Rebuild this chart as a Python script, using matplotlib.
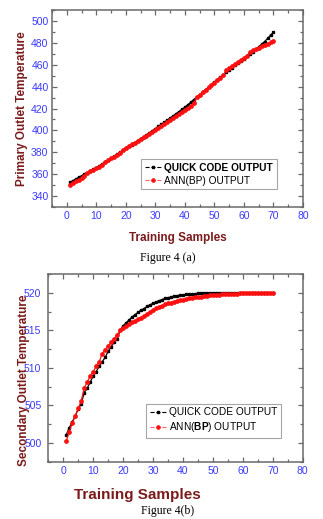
import matplotlib
matplotlib.use("Agg")
import matplotlib.pyplot as plt
from matplotlib.ticker import MultipleLocator
from matplotlib.lines import Line2D

plt.rcParams['font.family'] = ['Liberation Sans', 'DejaVu Sans']
plt.rcParams['mathtext.fontset'] = 'custom'
plt.rcParams['mathtext.bf'] = 'Liberation Sans:bold'
plt.rcParams['mathtext.rm'] = 'Liberation Sans'

samples = list(range(1, 71))

primary_quick = [
    352.5, 354.0, 355.5, 357.0, 358.5, 360.0, 361.5, 363.0, 364.5, 366.0,
    367.7, 369.4, 371.1, 372.8, 374.5, 376.3, 378.1, 379.9, 381.7, 383.5,
    385.3, 387.1, 388.9, 390.7, 392.5, 394.3, 396.1, 397.9, 399.8, 401.7,
    403.6, 405.5, 407.4, 409.3, 411.2, 413.2, 415.2, 417.2, 419.2, 421.2,
    423.5, 425.8, 428.1, 430.4, 432.7, 435.0, 437.3, 439.6, 441.9, 444.2,
    446.4, 448.6, 450.8, 453.0, 455.1, 457.2, 459.3, 461.4, 463.5, 465.6,
    467.7, 469.8, 472.0, 474.2, 476.4, 478.8, 481.2, 484.0, 487.0, 489.5]

primary_ann = [
    350.5, 352.0, 353.5, 355.0, 356.5, 358.0, 361.5, 362.8, 364.1, 365.4,
    366.7, 368.0, 371.5, 373.0, 374.5, 376.0, 377.5, 379.0, 382.5, 384.0,
    385.6, 387.2, 388.8, 390.4, 392.0, 393.6, 395.2, 396.8, 398.5, 400.2,
    402.0, 403.8, 405.6, 407.4, 409.2, 411.0, 412.9, 414.8, 416.7, 418.6,
    420.6, 422.6, 424.6, 430.5, 432.7, 434.9, 437.1, 439.3, 441.5, 443.7,
    445.9, 448.1, 450.3, 455.0, 457.0, 459.0, 461.0, 462.8, 464.6, 466.3,
    468.0, 471.5, 473.0, 474.4, 475.7, 476.9, 478.0, 479.2, 480.4, 481.5]

secondary_quick = [
    501.1, 502.0, 502.8, 503.6, 504.5, 505.2, 506.7, 507.3, 508.1, 508.9,
    509.5, 510.2, 510.8, 511.4, 512.2, 512.8, 513.4, 513.9, 515.0, 515.6,
    516.0, 516.4, 516.8, 517.1, 517.4, 517.7, 517.9, 518.2, 518.4, 518.6,
    518.8, 518.95, 519.1, 519.25, 519.35, 519.45, 519.55, 519.62, 519.68, 519.73,
    519.78, 519.82, 519.86, 519.89, 519.92, 519.94, 519.96, 519.97, 519.98, 519.99,
    520.0, 520.0, 520.0, 520.0, 520.0, 520.0, 520.0, 520.0, 520.0, 520.0,
    520.0, 520.0, 520.0, 520.0, 520.0, 520.0, 520.0, 520.0, 520.0, 520.0]

secondary_ann = [
    500.2, 501.5, 502.6, 503.6, 504.6, 505.6, 507.3, 508.1, 508.9, 509.5,
    510.2, 510.8, 511.9, 512.4, 512.9, 513.4, 513.9, 514.4, 515.0, 515.3,
    515.6, 515.85, 516.1, 516.3, 516.5, 516.7, 516.95, 517.2, 517.45, 517.7,
    517.95, 518.15, 518.3, 518.45, 518.6, 518.7, 518.8, 518.9, 519.0, 519.1,
    519.18, 519.25, 519.32, 519.38, 519.44, 519.5, 519.55, 519.6, 519.64, 519.68,
    519.72, 519.75, 519.78, 519.81, 519.84, 519.86, 519.88, 519.9, 519.91, 519.92,
    519.93, 519.94, 519.95, 519.96, 519.97, 519.97, 519.98, 519.98, 519.99, 519.99]

legend_quick = "QUICK CODE OUTPUT"
legend_ann_a = "ANN(BP) OUTPUT"
legend_ann_b = r"ANN($\mathbf{BP}$) OUTPUT"
xlabel = "Training Samples"
ylabel_a = "Primary Outlet Temperature"
ylabel_b = "Secondary Outlet Temperature"
caption_a = "Figure 4 (a)"
caption_b = "Figure 4(b)"

W, H = 323, 519
fig = plt.figure(figsize=(W / 100, H / 100), dpi=100)

TICK_BLUE = '#3a3aff'
LABEL_RED = '#7b1b1b'
SPINE = '#6a6a6a'


def style(ax, xmaj, xmin, ymaj, ymin, pad_y):
    for s in ax.spines.values():
        s.set_color(SPINE)
        s.set_linewidth(1.1)
    ax.xaxis.set_major_locator(MultipleLocator(xmaj))
    ax.xaxis.set_minor_locator(MultipleLocator(xmin))
    ax.yaxis.set_major_locator(MultipleLocator(ymaj))
    ax.yaxis.set_minor_locator(MultipleLocator(ymin))
    ax.tick_params(which='both', direction='in', top=True, right=True,
                   color=SPINE, width=0.9, labelcolor=TICK_BLUE, labelsize=7.5)
    ax.tick_params(which='major', length=3.5)
    ax.tick_params(which='minor', length=2)
    ax.tick_params(axis='y', pad=pad_y)
    ax.tick_params(axis='x', pad=3)


def handles():
    return [Line2D([], [], color='black', ls='--', lw=0.8, marker='s', ms=2.0),
            Line2D([], [], color='#ff6060', ls='--', lw=0.8, marker='o',
                   ms=2.3, mfc='#ff1010', mec='#ff1010')]


# ---- Panel (a)
ax1 = fig.add_axes([52 / W, 1 - 207 / H, 251 / W, 197 / H])
ax1.plot(samples, primary_quick, '-s', color='black', ms=2.0, lw=0.9,
         label=legend_quick)
ax1.plot(samples, primary_ann, '-o', color='#ff1010', ms=2.4, lw=0.9,
         label=legend_ann_a)
ax1.set_xlim(-5, 80)
ax1.set_ylim(330, 510)
style(ax1, 10, 5, 20, 10, 2.5)
ax1.set_xlabel(xlabel, color=LABEL_RED, fontsize=8.5, fontweight='bold',
               labelpad=8)
ax1.set_ylabel(ylabel_a, color=LABEL_RED, fontsize=8.5, fontweight='bold',
               labelpad=2)
leg1 = ax1.legend(handles(), [legend_quick, legend_ann_a], loc='lower right',
                  bbox_to_anchor=(0.915, 0.065), fontsize=7.3, frameon=True,
                  fancybox=False, edgecolor='#909090', handlelength=1.6,
                  handletextpad=0.3, borderpad=0.35, labelspacing=0.3)
leg1.get_frame().set_linewidth(0.8)
leg1.get_texts()[0].set_fontweight('bold')

# ---- Panel (b)
ax2 = fig.add_axes([48.3 / W, 1 - 461.7 / H, 254.4 / W, 187.7 / H])
ax2.plot(samples, secondary_quick, '-s', color='black', ms=2.0, lw=0.9,
         label=legend_quick)
ax2.plot(samples, secondary_ann, '-o', color='#ff1010', ms=2.4, lw=0.9,
         label=legend_ann_b)
ax2.set_xlim(-5, 80)
ax2.set_ylim(497.5, 522.5)
style(ax2, 10, 5, 5, 2.5, 5)
ax2.set_xlabel(xlabel, color=LABEL_RED, fontsize=11, fontweight='bold',
               labelpad=10)
ax2.xaxis.set_label_coords(0.35, -0.14)
ax2.set_ylabel(ylabel_b, color=LABEL_RED, fontsize=8.5, fontweight='bold')
ax2.yaxis.set_label_coords(-0.07, 0.435)
leg2 = ax2.legend(handles(), [legend_quick, legend_ann_b], loc='lower right',
                  bbox_to_anchor=(0.935, 0.1), fontsize=7.3, frameon=True,
                  fancybox=False, edgecolor='#909090', handlelength=1.6,
                  handletextpad=0.3, borderpad=0.35, labelspacing=0.3)
leg2.get_frame().set_linewidth(0.8)

# ---- captions
fig.text(168 / W, 1 - 258 / H, caption_a, ha='center', va='center',
         fontsize=8.5, family=['Liberation Serif', 'DejaVu Serif'])
fig.text(168 / W, 1 - 511 / H, caption_b, ha='center', va='center',
         fontsize=8.5, family=['Liberation Serif', 'DejaVu Serif'])

fig.savefig('out.png', dpi=100)
